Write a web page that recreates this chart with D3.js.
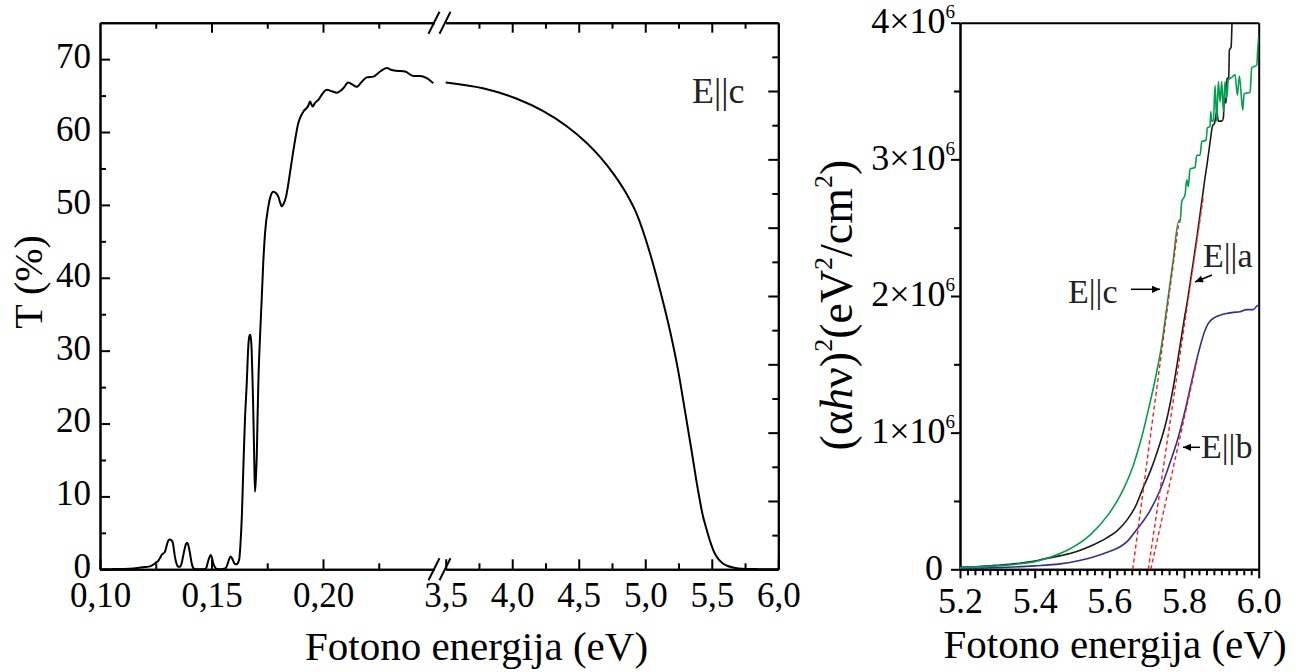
<!DOCTYPE html>
<html><head><meta charset="utf-8">
<script src="https://cdn.jsdelivr.net/npm/d3@7"></script>
<style>body{margin:0;background:#fff}svg{display:block}</style>
</head><body><svg id="c" width="1312" height="672"></svg>
<script>
// ---------- DATA ----------
// Left panel: transmittance T(%) vs photon energy (eV), E||c
const lowE = [0.100,0.105,0.110,0.115,0.120,0.1224,0.1239,0.1250,0.1262,0.1270,0.1277,0.1285,0.1291,0.1297,0.1302,0.1308,0.1314,0.1320,0.1326,0.1331,0.1336,0.1343,0.1351,0.1358,0.1366,0.1374,0.1381,0.1386,0.1391,0.1397,0.1404,0.1410,0.1416,0.1423,0.1430,0.1450,0.1471,0.1478,0.1483,0.1490,0.1496,0.1502,0.1508,0.1515,0.1523,0.1540,0.1561,0.1568,0.1576,0.1582,0.1586,0.1592,0.1601,0.1607,0.1613,0.1619,0.1625,0.1630,0.1636,0.1643,0.1650,0.1658,0.1665,0.1670,0.1673,0.1677,0.1680,0.1684,0.1688,0.1692,0.1695,0.1699,0.1703,0.1706,0.1710,0.1717,0.1725,0.1732,0.1740,0.1755,0.1766,0.1777,0.1790,0.1800,0.1808,0.1815,0.1824,0.1834,0.1843,0.1852,0.1870,0.1889,0.1912,0.1934,0.1942,0.1948,0.1954,0.1964,0.1979,0.1994,0.2017,0.2039,0.2061,0.2091,0.2113,0.2133,0.2151,0.2174,0.2196,0.2226,0.2256,0.2286,0.2308,0.2330,0.2368,0.2405,0.2435,0.2465,0.2495];
const lowT = [0,0.02,0.05,0.12,0.3,0.4,0.65,0.9,1.2,1.6,2.0,2.2,2.4,3.0,3.6,4.0,4.1,4.0,3.7,2.8,1.7,0.8,0.35,0.35,0.8,2.0,3.0,3.5,3.65,3.2,2.1,1.0,0.3,0.05,0.0,0.0,0.05,0.3,0.9,1.6,1.95,1.6,0.8,0.3,0.05,0.02,0.1,0.4,1.1,1.6,1.75,1.5,0.9,0.7,0.7,0.9,1.5,3.5,7.2,14.1,20.5,25.5,30.6,32.0,32.2,31.6,30.1,26.0,20.9,14.5,10.65,12.5,15.5,20,25.5,31.5,37.0,42,46.1,49.8,51.3,51.8,51.6,51.1,50.3,49.8,50.2,51.1,52.6,54.4,58.0,61.2,62.8,63.6,64.2,63.8,63.5,64.0,64.4,65.1,65.8,65.6,65.4,66.0,66.8,66.5,66.2,66.9,67.5,67.6,68.3,68.8,68.5,68.4,68.3,67.7,67.7,67.4,66.7];
const highE = [3.50,3.78,4.03,4.23,4.41,4.56,4.66,4.76,4.86,4.93,5.035,5.11,5.185,5.246,5.297,5.347,5.396,5.43,5.459,5.49,5.522,5.55,5.584,5.62,5.659,5.70,5.76,5.85,6.00];
const highT = [66.8,66.0,64.6,62.9,60.8,58.5,56.6,54.3,51.5,49.0,43.4,38.4,32.8,27.4,21.9,16.4,10.9,7.6,5.6,3.7,2.2,1.4,0.8,0.45,0.25,0.12,0.05,0.02,0.0];
const lowMajor = [0.10,0.15,0.20], lowMinor = [0.125,0.175,0.225];
const highMajor = [3.5,4.0,4.5,5.0,5.5,6.0], highMinor = [3.75,4.25,4.75,5.25,5.75];
const tMajor = [0,10,20,30,40,50,60,70], tMinor = [5,15,25,35,45,55,65];
const auxMajor = [10,20,30,40,50,60,70], auxMinor = [5,15,25,35,45,55,65,75];

// Right panel: (alpha h nu)^2 in units of 1e6 eV^2/cm^2
const cE = [5.20,5.25,5.30,5.35,5.40,5.441,5.495,5.548,5.597,5.629,5.664,5.682,5.709,5.722,5.740,5.754,5.771,5.785,5.7893,5.7939,5.8027,5.8073,5.8116,5.8161,5.8295,5.8341,5.8429,5.8475,5.859,5.8625,5.8697,5.8716,5.8742,5.8786,5.8831,5.8876,5.8919,5.8965,5.9010,5.9053,5.9099,5.9144,5.9187,5.9278,5.9367,5.9429,5.9483,5.9574,5.9608,5.9769,5.9814,5.9948,5.9975,6.0];
const cV = [0.012,0.018,0.025,0.037,0.055,0.088,0.15,0.25,0.40,0.54,0.76,0.92,1.22,1.38,1.64,1.92,2.26,2.54,2.54,2.69,2.74,2.85,2.80,2.93,2.94,3.03,3.03,3.13,3.14,3.23,3.24,3.35,3.28,3.28,3.54,3.28,3.57,3.42,3.57,3.35,3.57,3.45,3.58,3.60,3.62,3.47,3.61,3.36,3.48,3.49,3.67,3.69,3.81,3.90];
const aE = [5.20,5.25,5.30,5.35,5.40,5.423,5.47,5.513,5.55,5.593,5.62,5.647,5.67,5.691,5.71,5.727,5.754,5.771,5.789,5.803,5.807,5.821,5.834,5.8475,5.856,5.8625,5.870,5.877,5.8813,5.8876,5.8919,5.9010,5.9053,5.908,5.9125,5.9152,5.9197,5.9215,5.926,5.929];
const aV = [0.015,0.02,0.03,0.042,0.06,0.075,0.10,0.13,0.17,0.23,0.28,0.36,0.46,0.60,0.72,0.85,1.10,1.33,1.63,1.87,1.93,2.18,2.42,2.69,2.86,2.98,3.13,3.25,3.26,3.35,3.28,3.28,3.30,3.45,3.41,3.59,3.60,3.80,3.82,4.06];
const bE = [5.20,5.30,5.40,5.468,5.52,5.557,5.60,5.629,5.65,5.673,5.69,5.709,5.736,5.7625,5.785,5.807,5.825,5.843,5.855,5.865,5.88,5.8965,5.91,5.932,5.95,5.968,5.985,5.9975,6.0];
const bV = [0.005,0.012,0.025,0.04,0.065,0.09,0.13,0.165,0.21,0.29,0.35,0.43,0.58,0.78,0.97,1.21,1.43,1.63,1.74,1.80,1.84,1.86,1.87,1.88,1.885,1.90,1.90,1.93,1.93];
// linear fits (red dashed)
const fitCE = [5.6626,5.787], fitCV = [0,2.56];
const fitAE = [5.7044,5.852], fitAV = [0,2.73];
const fitBE = [5.711,5.834],  fitBV = [0,1.52];
const rMajorX = [5.2,5.4,5.6,5.8,6.0];
const rMinorX = [5.22,5.24,5.26,5.28,5.30,5.32,5.34,5.36,5.38,5.42,5.44,5.46,5.48,5.50,5.52,5.54,5.56,5.58,5.62,5.64,5.66,5.68,5.70,5.72,5.74,5.76,5.78,5.82,5.84,5.86,5.88,5.90,5.92,5.94,5.96,5.98];
const rMajorY = [0,1,2,3,4], rMinorY = [0.5,1.5,2.5,3.5];

// ---------- DRAW ----------
const FONT = '"Liberation Serif","Times New Roman",Times,serif';
const svg = d3.select('#c').attr('font-family', FONT);
const zip = (xs, ys) => xs.map((x, i) => ({e: x, v: ys[i]}));

// Left panel scales
const xA = d3.scaleLinear().domain([0.10, 0.25]).range([100, 434.5]);
const xB = d3.scaleLinear().domain([3.5, 6.0]).range([445.7, 778.3]);
const yT = d3.scaleLinear().domain([0, 75]).range([569.3, 22.7]);
const yAux = d3.scaleLinear().domain([0, 80]).range([569.3, 22.7]);

function style(g, fs) {
  g.attr('font-family', FONT).attr('font-size', fs || 35);
  g.select('.domain').attr('stroke', '#000').attr('stroke-width', 2);
  g.selectAll('.tick line').attr('stroke', '#000').attr('stroke-width', 2);
  g.selectAll('.tick text').attr('fill', '#000');
  return g;
}
const fmtLow = d => d3.format('.2f')(d).replace('.', ',');
const fmtHigh = d => d3.format('.1f')(d).replace('.', ',');

// bottom axes
style(svg.append('g').attr('transform', 'translate(0,569.3)')
  .call(d3.axisBottom(xA).tickValues(lowMajor).tickFormat(fmtLow).tickSize(-10).tickSizeOuter(0).tickPadding(13)));
style(svg.append('g').attr('transform', 'translate(0,569.3)')
  .call(d3.axisBottom(xA).tickValues(lowMinor).tickFormat('').tickSize(-6).tickSizeOuter(0)));
style(svg.append('g').attr('transform', 'translate(0,569.3)')
  .call(d3.axisBottom(xB).tickValues(highMajor).tickFormat(fmtHigh).tickSize(-10).tickSizeOuter(0).tickPadding(13)));
style(svg.append('g').attr('transform', 'translate(0,569.3)')
  .call(d3.axisBottom(xB).tickValues(highMinor).tickFormat('').tickSize(-6).tickSizeOuter(0)));
// top axes
style(svg.append('g').attr('transform', 'translate(0,22.7)')
  .call(d3.axisTop(xA).tickValues(lowMajor.slice(1)).tickFormat('').tickSize(-10).tickSizeOuter(0)));
style(svg.append('g').attr('transform', 'translate(0,22.7)')
  .call(d3.axisTop(xA).tickValues(lowMinor).tickFormat('').tickSize(-6).tickSizeOuter(0)));
style(svg.append('g').attr('transform', 'translate(0,22.7)')
  .call(d3.axisTop(xB).tickValues(highMajor.slice(1, -1)).tickFormat('').tickSize(-10).tickSizeOuter(0)));
style(svg.append('g').attr('transform', 'translate(0,22.7)')
  .call(d3.axisTop(xB).tickValues(highMinor).tickFormat('').tickSize(-6).tickSizeOuter(0)));
// left axis
const gl = style(svg.append('g').attr('transform', 'translate(100,0)')
  .call(d3.axisLeft(yT).tickValues(tMajor).tickFormat(d3.format('d')).tickSize(-10).tickSizeOuter(0).tickPadding(9)));
gl.selectAll('.tick text').attr('dy', '0.24em');
style(svg.append('g').attr('transform', 'translate(100,0)')
  .call(d3.axisLeft(yT).tickValues(tMinor).tickFormat('').tickSize(-6).tickSizeOuter(0)));
// right axis (unlabelled)
style(svg.append('g').attr('transform', 'translate(778.3,0)')
  .call(d3.axisRight(yAux).tickValues(auxMajor).tickFormat('').tickSize(-10).tickSizeOuter(0)));
style(svg.append('g').attr('transform', 'translate(778.3,0)')
  .call(d3.axisRight(yAux).tickValues(auxMinor).tickFormat('').tickSize(-6).tickSizeOuter(0)));

// axis break marks
const brk = svg.append('g').attr('stroke', '#000').attr('stroke-width', 2).attr('fill', 'none');
[[434, 569.3], [445, 569.3], [434, 22.7], [445, 22.7]].forEach(([cx, cy]) => {
  brk.append('path').attr('d', `M${cx - 5.5},${cy + 11}L${cx + 5.5},${cy - 11}`);
});

// curves
const lineA = d3.line().x(d => xA(d.e)).y(d => yT(d.v)).curve(d3.curveMonotoneX);
const lineB = d3.line().x(d => xB(d.e)).y(d => yT(d.v)).curve(d3.curveMonotoneX);
svg.append('path').attr('d', lineA(zip(lowE, lowT))).attr('fill', 'none').attr('stroke', '#000').attr('stroke-width', 2);
svg.append('path').attr('d', lineB(zip(highE, highT))).attr('fill', 'none').attr('stroke', '#000').attr('stroke-width', 2);

// left labels
svg.append('text').attr('x', 692).attr('y', 103).attr('font-size', 36).attr('fill', '#222').text('E||c');
svg.append('text').attr('transform', 'translate(42,282) rotate(-90)').attr('text-anchor', 'middle')
  .attr('font-size', 40).text('T (%)');
svg.append('text').attr('x', 476.5).attr('y', 660).attr('text-anchor', 'middle').attr('font-size', 41).text('Fotono energija (eV)');

// ---------- Right panel ----------
const xR = d3.scaleLinear().domain([5.2, 6.0]).range([960, 1258.7]);
const yR = d3.scaleLinear().domain([0, 4]).range([569.3, 22.7]);

svg.append('defs').append('clipPath').attr('id', 'rclip').append('rect')
  .attr('x', 960).attr('y', 22.7).attr('width', 298.7).attr('height', 546.6);

style(svg.append('g').attr('transform', 'translate(0,569.3)')
  .call(d3.axisBottom(xR).tickValues(rMajorX).tickFormat(d3.format('.1f')).tickSize(9).tickSizeOuter(0).tickPadding(9)), 36);
style(svg.append('g').attr('transform', 'translate(0,569.3)')
  .call(d3.axisBottom(xR).tickValues(rMinorX).tickFormat('').tickSize(6).tickSizeOuter(0)));
const gy = style(svg.append('g').attr('transform', 'translate(960,0)')
  .call(d3.axisLeft(yR).tickValues(rMajorY).tickSize(9).tickSizeOuter(0).tickFormat(d => d)), 36);
gy.selectAll('.tick text').each(function(d) {
  const t = d3.select(this);
  t.text(null).attr('x', -5).attr('dy', '0.27em');
  if (d === 0) { t.attr('x', -17).text('0'); return; }
  t.append('tspan').text(d + '×10');
  t.append('tspan').attr('font-size', 19).attr('dy', -15).text('6');
});
style(svg.append('g').attr('transform', 'translate(960,0)')
  .call(d3.axisLeft(yR).tickValues(rMinorY).tickFormat('').tickSize(6).tickSizeOuter(0)));
// top & right frame
style(svg.append('g').attr('transform', 'translate(0,22.7)').call(d3.axisTop(xR).tickValues([]).tickSizeOuter(0)));
style(svg.append('g').attr('transform', 'translate(1258.7,0)').call(d3.axisRight(yR).tickValues([]).tickSizeOuter(0)));

const plotR = svg.append('g').attr('clip-path', 'url(#rclip)');
const lineR = d3.line().x(d => xR(d.e)).y(d => yR(d.v)).curve(d3.curveMonotoneX);
plotR.append('path').attr('d', lineR(zip(bE, bV))).attr('fill', 'none').attr('stroke', '#2e3192').attr('stroke-width', 1.6);
plotR.append('path').attr('d', lineR(zip(aE, aV))).attr('fill', 'none').attr('stroke', '#1a1a1a').attr('stroke-width', 1.6);
plotR.append('path').attr('d', lineR(zip(cE, cV))).attr('fill', 'none').attr('stroke', '#00a04b').attr('stroke-width', 1.6);
const lineFit = d3.line().x(d => xR(d.e)).y(d => yR(d.v));
[[fitCE, fitCV], [fitAE, fitAV], [fitBE, fitBV]].forEach(([e, v]) => {
  plotR.append('path').attr('d', lineFit(zip(e, v))).attr('fill', 'none')
    .attr('stroke', '#ff1a1a').attr('stroke-width', 1.4).attr('stroke-dasharray', '4,3');
});

// annotations
const defs = svg.select('defs');
defs.append('marker').attr('id', 'ah').attr('viewBox', '0 0 10 10').attr('refX', 10).attr('refY', 5)
  .attr('markerWidth', 11).attr('markerHeight', 8).attr('markerUnits', 'userSpaceOnUse').attr('orient', 'auto')
  .append('path').attr('d', 'M0,0.5L10,5L0,9.5Z').attr('fill', '#000');
const ann = [
  {t: 'E||c', x: 1068, y: 303, ax1: 1131, ay1: 289.3, ax2: 1160, ay2: 289.3},
  {t: 'E||a', x: 1203, y: 267, ax1: 1212, ay1: 275, ax2: 1195, ay2: 282},
  {t: 'E||b', x: 1201, y: 458, ax1: 1200, ay1: 447.3, ax2: 1183, ay2: 447.3}
];
ann.forEach(a => {
  svg.append('text').attr('x', a.x).attr('y', a.y).attr('font-size', 34).attr('fill', '#222').text(a.t);
  svg.append('line').attr('x1', a.ax1).attr('y1', a.ay1).attr('x2', a.ax2).attr('y2', a.ay2)
    .attr('stroke', '#000').attr('stroke-width', 1.5).attr('marker-end', 'url(#ah)');
});

// right axis titles
svg.append('text').attr('x', 1115).attr('y', 658).attr('text-anchor', 'middle').attr('font-size', 41).text('Fotono energija (eV)');
const lab = svg.append('text').attr('transform', 'translate(852,305) rotate(-90)').attr('text-anchor', 'middle').attr('font-size', 46);
lab.append('tspan').text('(α');
lab.append('tspan').attr('font-style', 'italic').text('h');
lab.append('tspan').text('ν)');
lab.append('tspan').attr('font-size', 26).attr('dy', -20).text('2');
lab.append('tspan').attr('dy', 20).text('(eV');
lab.append('tspan').attr('font-size', 26).attr('dy', -20).text('2');
lab.append('tspan').attr('dy', 20).text('/cm');
lab.append('tspan').attr('font-size', 26).attr('dy', -20).text('2');
lab.append('tspan').attr('dy', 20).text(')');
</script></body></html>
